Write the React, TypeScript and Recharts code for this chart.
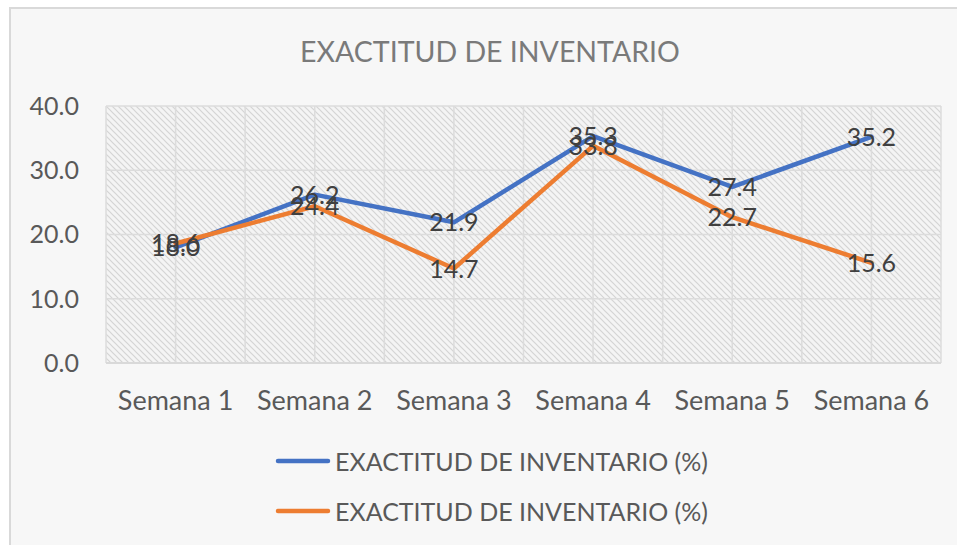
import { LineChart, Line, XAxis, YAxis, CartesianGrid, Legend, LabelList } from 'recharts';

const semanas = ['Semana 1', 'Semana 2', 'Semana 3', 'Semana 4', 'Semana 5', 'Semana 6'];
const exactitudAzul = [18.0, 26.2, 21.9, 35.3, 27.4, 35.2];
const exactitudNaranja = [18.6, 24.4, 14.7, 33.8, 22.7, 15.6];
const yTicks = [0, 10, 20, 30, 40];
const serieNombre = 'EXACTITUD DE INVENTARIO (%)';

const data = semanas.map((semana, i) => ({
  semana,
  azul: exactitudAzul[i],
  naranja: exactitudNaranja[i],
}));

const FONT = 'Lato, "Open Sans", sans-serif';

function ValueLabel(props: any) {
  const { x, y, value } = props;
  if (x == null || y == null) return null;
  return (
    <text x={x} y={y + 9} textAnchor="middle" fontSize={25} fill="#404040" fontFamily={FONT}>
      {Number(value).toFixed(1)}
    </text>
  );
}

function LegendRows({ payload }: any) {
  const items = (payload || []).filter((p: any) => p.type !== 'none');
  return (
    <div style={{ display: 'flex', flexDirection: 'column', alignItems: 'center' }}>
      {items.map((p: any, i: number) => (
        <div key={i} style={{ display: 'flex', alignItems: 'center', height: 50 }}>
          <svg width={56} height={6}>
            <line x1={3} y1={3} x2={53} y2={3} stroke={p.color} strokeWidth={4.5} strokeLinecap="round" />
          </svg>
          <span style={{ marginLeft: 4, fontSize: 25, color: '#595959', fontFamily: FONT }}>{p.value}</span>
        </div>
      ))}
    </div>
  );
}

export default function App() {
  return (
    <div style={{ position: 'absolute', left: 0, top: 0, width: 957, height: 545, overflow: 'hidden', background: '#fff' }}>
      <div
        style={{
          position: 'absolute',
          left: 9,
          top: 7,
          width: 980,
          height: 560,
          border: '2px solid #d9d9d9',
          background: '#f7f7f7',
        }}
      />
      <div style={{ position: 'absolute', left: 0, top: 0 }}>
        <LineChart width={957} height={545} data={data} margin={{ top: 106, right: 16, bottom: 142, left: 0 }}>
          <defs>
            <pattern id="hatch" patternUnits="userSpaceOnUse" width={6} height={6}>
              <rect width={6} height={6} fill="#f4f4f4" />
              <path d="M-1,-1 L7,7 M-1,5 L1,7 M5,-1 L7,1" stroke="#d4d4d4" strokeWidth={1.2} />
            </pattern>
          </defs>
          <text x={490} y={62} textAnchor="middle" fontSize={28.5} fill="#7a7a7a" fontFamily={FONT}>
            EXACTITUD DE INVENTARIO
          </text>
          <CartesianGrid
            fill="url(#hatch)"
            fillOpacity={1}
            stroke="#dcdcdc"
            strokeWidth={1.5}
            verticalCoordinatesGenerator={({ offset }: any) =>
              Array.from({ length: semanas.length * 2 + 1 }, (_, i) => offset.left + (i * offset.width) / (semanas.length * 2))
            }
          />
          <XAxis
            dataKey="semana"
            scale="band"
            height={40}
            tickLine={false}
            tickSize={0}
            tickMargin={28}
            axisLine={{ stroke: '#d9d9d9', strokeWidth: 2 }}
            tick={{ fontSize: 27, fill: '#595959', fontFamily: FONT }}
            interval={0}
          />
          <YAxis
            width={106}
            domain={[0, 40]}
            ticks={yTicks}
            tickFormatter={(v: number) => v.toFixed(1)}
            tickLine={false}
            tickSize={0}
            tickMargin={27}
            axisLine={false}
            tick={{ fontSize: 25, fill: '#595959', fontFamily: FONT }}
          />
          <Legend
            layout="vertical"
            align="center"
            verticalAlign="middle"
            wrapperStyle={{ top: 436, left: 13, width: 957 }}
            content={<LegendRows />}
          />
          <Line
            type="linear"
            dataKey="azul"
            name={serieNombre}
            stroke="#4472C4"
            strokeWidth={4.5}
            strokeLinecap="round"
            strokeLinejoin="round"
            dot={false}
            activeDot={false}
            isAnimationActive={false}
          />
          <Line
            type="linear"
            dataKey="naranja"
            name={serieNombre}
            stroke="#ED7D31"
            strokeWidth={4.5}
            strokeLinecap="round"
            strokeLinejoin="round"
            dot={false}
            activeDot={false}
            isAnimationActive={false}
          />
          <Line dataKey="azul" stroke="none" legendType="none" dot={false} activeDot={false} isAnimationActive={false}>
            <LabelList dataKey="azul" content={<ValueLabel />} />
          </Line>
          <Line dataKey="naranja" stroke="none" legendType="none" dot={false} activeDot={false} isAnimationActive={false}>
            <LabelList dataKey="naranja" content={<ValueLabel />} />
          </Line>
        </LineChart>
      </div>
    </div>
  );
}
